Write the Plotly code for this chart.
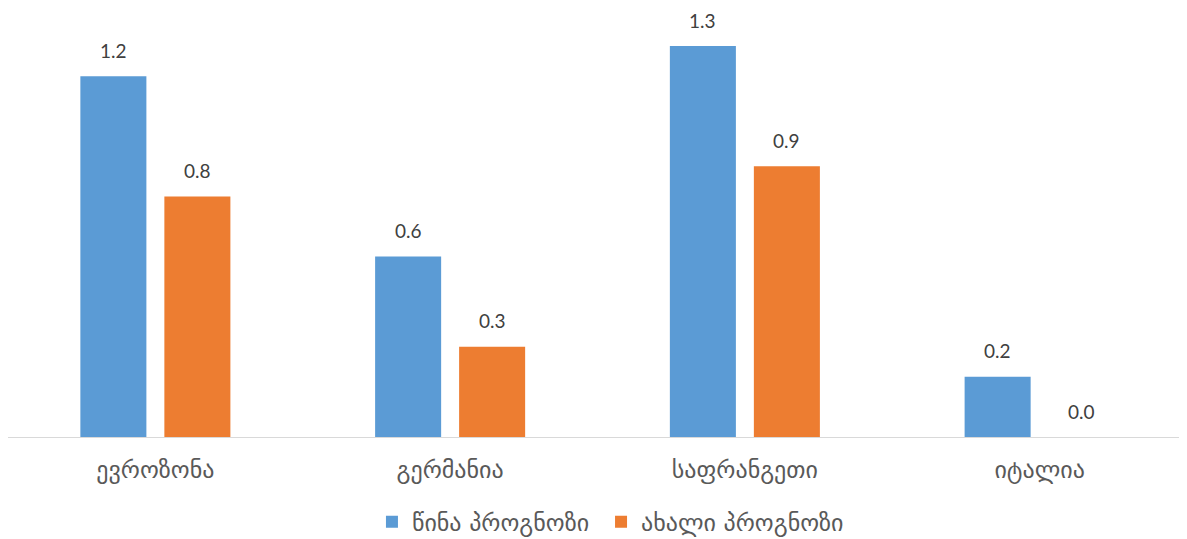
import plotly.graph_objects as go

categories = ["ევროზონა", "გერმანია", "საფრანგეთი", "იტალია"]
series_names = ["წინა პროგნოზი", "ახალი პროგნოზი"]
prev_forecast = [1.2, 0.6, 1.3, 0.2]
new_forecast = [0.8, 0.3, 0.9, 0.0]
colors = ["#5B9BD5", "#ED7D31"]

fig = go.Figure()
for name, vals, col, lg in zip(series_names, [prev_forecast, new_forecast], colors,
                               ["legend", "legend2"]):
    fig.add_trace(go.Bar(x=categories, y=vals, name=name, marker_color=col,
                         marker_line_width=0, legend=lg, showlegend=True))

annotations = []
for shift, vals in zip([-42, 42], [prev_forecast, new_forecast]):
    for c, v in zip(categories, vals):
        annotations.append(dict(x=c, y=v, text=f"{v:.1f}", showarrow=False,
                                xshift=shift, yshift=26, yanchor="middle",
                                font=dict(family="Lato", size=19, color="#404040")))

legend_common = dict(orientation="h", y=-0.202, yanchor="middle", xanchor="left",
                     font=dict(size=24, color="#595959"), itemwidth=30,
                     bgcolor="rgba(0,0,0,0)", visible=True)

fig.update_layout(
    width=1179, height=531,
    showlegend=True,
    margin=dict(l=0, r=0, t=8, b=102, autoexpand=False),
    paper_bgcolor="white", plot_bgcolor="white",
    bargap=0.43, bargroupgap=0.214,
    annotations=annotations,
    font=dict(family="DejaVu Sans", size=24, color="#595959"),
    xaxis=dict(showline=True, linecolor="#D9D9D9", linewidth=1, ticks="",
               ticklabelstandoff=11, automargin=False,
               tickfont=dict(size=24, color="#595959"), showgrid=False),
    yaxis=dict(range=[0, 1.4], visible=False, showgrid=False, zeroline=False),
    legend=dict(x=0.3087, **legend_common),
    legend2=dict(x=0.503, **legend_common),
)

fig.write_html("out.html")
